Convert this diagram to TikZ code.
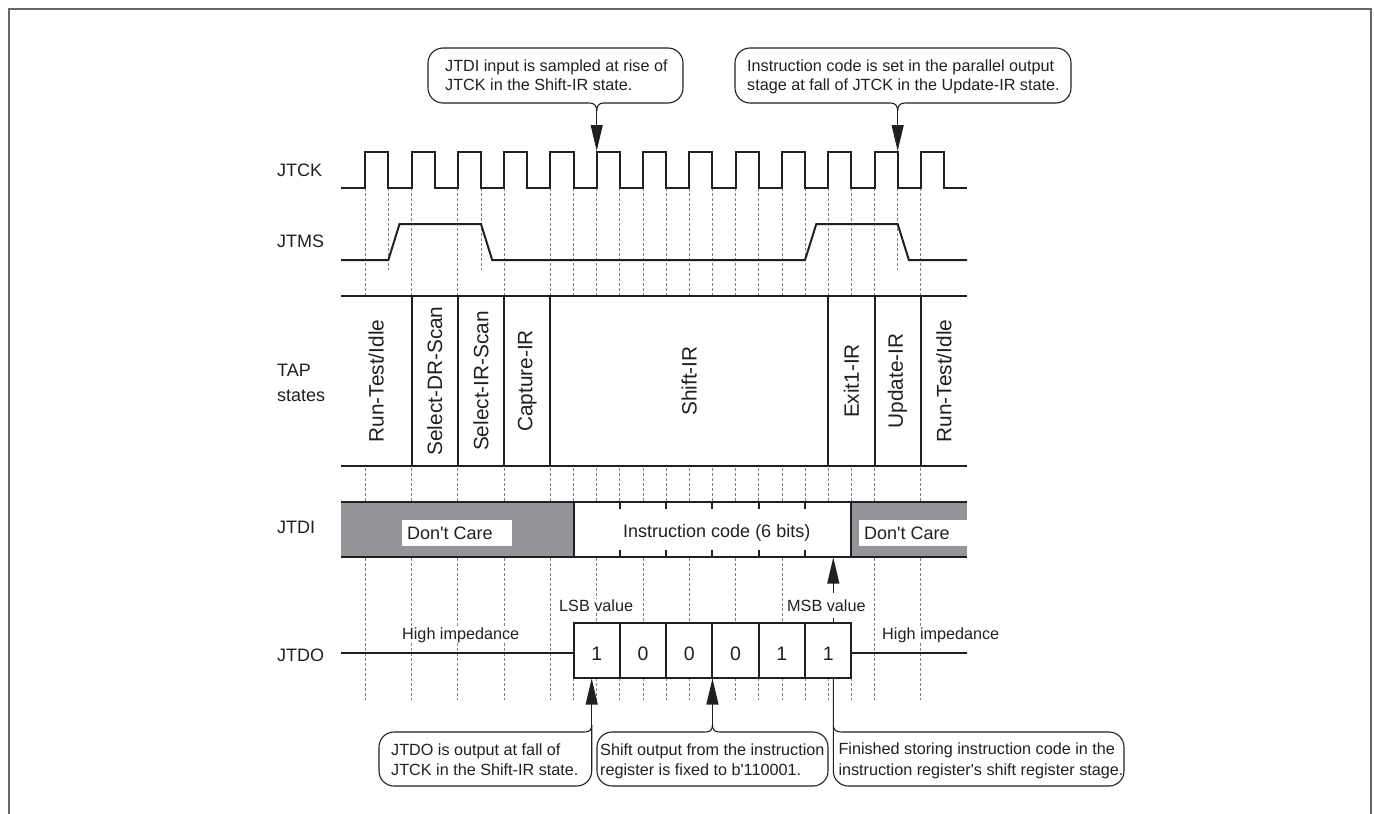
\documentclass[tikz,border=0pt]{standalone}
\usepackage{fontspec}
\setmainfont{Liberation Sans}
\newfontfamily\rawf{Liberation Sans}
\newcommand{\sq}{{\rawf'}}
\usetikzlibrary{arrows.meta}
\definecolor{dcgray}{RGB}{147,149,152}
\definecolor{ink}{RGB}{35,31,32}
\begin{document}
\begin{tikzpicture}[x=1pt,y=-1pt,
  sig/.style={line width=2pt, draw=ink, line join=miter},
  dashln/.style={line width=0.8pt, draw=black!50, dash pattern=on 2.5pt off 2.5pt},
  cl/.style={line width=1.1pt, draw=ink},
  arr/.style={cl, -{Triangle[length=26pt,width=12pt]}},
  lbl/.style={font=\fontsize{18}{20}\selectfont, text=ink, inner sep=0pt},
  ctext/.style={font=\fontsize{16.2}{19}\selectfont, text=ink, inner sep=0pt, anchor=base west},
  bgtext/.style={ctext, fill=white, inner sep=1pt},
  state/.style={font=\fontsize{20.8}{22}\selectfont, text=ink, inner sep=0pt, rotate=90},
  digit/.style={font=\fontsize{19.5}{21}\selectfont, text=ink, inner sep=0pt}]
\useasboundingbox (0,0) rectangle (1374,814);
% frame
\draw[line width=1.8pt, draw=black!60] (9,814) -- (9,9) -- (1371,9) -- (1371,814);

% dashed timing guides
\foreach \k in {0,...,9,11,12} \draw[dashln] ({365.2+46.3*\k},188) -- ({365.2+46.3*\k},700);
\foreach \k in {4,...,10} {
  \draw[dashln] ({388.35+46.3*\k},188) -- ({388.35+46.3*\k},557);
  \draw[dashln] ({388.35+46.3*\k},678) -- ({388.35+46.3*\k},700);
}
\draw[dashln] (828.2,188) -- (828.2,557);
\draw[dashln] (828.2,678) -- (828.2,700);
\foreach \k in {0,2,11} \draw[dashln] ({388.35+46.3*\k},188) -- ({388.35+46.3*\k},270);

% labels
\node[lbl, anchor=west] (jtck) at (277,170) {JTCK};
\node[lbl, anchor=west] (jtms) at (277,241.5) {JTMS};
\node[lbl, anchor=base west] (tap1) at (277,376) {TAP};
\node[lbl, anchor=base west] (tap2) at (277,401.5) {states};
\node[lbl, anchor=west] (jtdi) at (277,527) {JTDI};
\node[lbl, anchor=west] (jtdo) at (277,655) {JTDO};

% JTCK
\draw[sig] (341,188) \foreach \k in {0,...,12} { -- ({365.2+46.3*\k},188) -- ++(0,-36) -- ++(23.15,0) -- ++(0,36) } -- (967,188);
% JTMS
\draw[sig] (341,260) -- (388.35,260) -- (399.5,224) -- (480.95,224) -- (492.2,260) -- (805.05,260) -- (816.3,224) -- (897.65,224) -- (908.9,260) -- (967,260);

% TAP states
\fill[white] (341,296) rectangle (967,466);
\draw[sig] (341,296) -- (967,296);
\draw[sig] (341,466) -- (967,466);
\foreach \x in {411.5,457.8,504.1,550.4,828.2,874.5,920.8} \draw[sig] (\x,296) -- (\x,466);
\node[state] (s1) at (376.2,381) {Run-Test/Idle};
\node[state] (s2) at (434.6,381) {Select-DR-Scan};
\node[state] (s3) at (481,381) {Select-IR-Scan};
\node[state] (s4) at (527.2,381) {Capture-IR};
\node[state] (s5) at (689.3,381) {Shift-IR};
\node[state] (s6) at (851.3,381) {Exit1-IR};
\node[state] (s7) at (897.6,381) {Update-IR};
\node[state] (s8) at (943.9,381) {Run-Test/Idle};

% JTDI
\fill[dcgray] (341,502) rectangle (573.55,557);
\fill[dcgray] (851.35,502) rectangle (967,557);
\fill[white] (573.55,502) rectangle (851.35,557);
\draw[sig] (341,502) -- (967,502);
\draw[sig] (341,557) -- (967,557);
\draw[sig] (573.55,502) -- (573.55,557);
\draw[sig] (851.35,502) -- (851.35,557);
\foreach \k in {5,...,9} {
  \draw[sig] ({388.35+46.3*\k},502) -- ++(0,7);
  \draw[sig] ({388.35+46.3*\k},557) -- ++(0,-7);
}
\fill[white] (402,520) rectangle (512,546);
\fill[white] (859,520) rectangle (967,546);
\node[lbl, anchor=west] (dc1) at (407,533) {Don\sq t Care};
\node[lbl, anchor=west] (ic) at (623,533) {Instruction code (6 bits)};
\node[lbl, anchor=west] (dc2) at (864,533) {Don\sq t Care};

% JTDO
\draw[sig] (341,653) -- (573.55,653);
\draw[sig] (851.35,653) -- (967,653);
\draw[sig, fill=white] (573.55,623) rectangle (851.35,678);
\foreach \k in {5,...,9} \draw[sig] ({388.35+46.3*\k},623) -- ({388.35+46.3*\k},678);
\node[digit] (d1) at (596.7,654) {1};
\node[digit] (d2) at (643.0,654) {0};
\node[digit] (d3) at (689.3,654) {0};
\node[digit] (d4) at (735.6,654) {0};
\node[digit] (d5) at (781.9,654) {1};
\node[digit] (d6) at (828.2,654) {1};
\node[bgtext] (hz1) at (401,639) {High impedance};
\node[bgtext] (hz2) at (881,639) {High impedance};
\node[bgtext] (lsb) at (558,611.7) {LSB value};
\node[bgtext] (msb) at (786,611.7) {MSB value};

% MSB arrow
\coordinate (m0) at (833.3,593);
\coordinate (m1) at (833.3,557.5);
\draw[arr] (m0) -- (m1);
\draw[cl] (833.3,618) -- (833.3,623);

% top callout 1
\draw[cl, rounded corners=15pt] (589.7,103) -- (428,103) -- (428,48) -- (683,48) -- (683,103) -- (603.7,103);
\draw[cl] (589.7,103) .. controls (594.5,103) and (596.7,106) .. (596.7,111);
\draw[cl] (603.7,103) .. controls (598.9,103) and (596.7,106) .. (596.7,111);
\coordinate (a1) at (596.7,111);
\coordinate (a1t) at (596.7,151);
\draw[arr] (a1) -- (a1t);
\node[ctext] (t1a) at (445,71.7) {JTDI input is sampled at rise of};
\node[ctext] (t1b) at (445,90.8) {JTCK in the Shift-IR state.};

% top callout 2
\draw[cl, rounded corners=15pt] (890.65,103) -- (735,103) -- (735,48) -- (1071,48) -- (1071,103) -- (904.65,103);
\draw[cl] (890.65,103) .. controls (895.45,103) and (897.65,106) .. (897.65,111);
\draw[cl] (904.65,103) .. controls (899.85,103) and (897.65,106) .. (897.65,111);
\coordinate (a2) at (897.65,111);
\coordinate (a2t) at (897.65,151);
\draw[arr] (a2) -- (a2t);
\node[ctext] (t2a) at (747,71.7) {Instruction code is set in the parallel output};
\node[ctext] (t2b) at (747,90.8) {stage at fall of JTCK in the Update-IR state.};

% bottom callout 1
\draw[cl, rounded corners=15pt] (591.7,725) -- (591.7,786) -- (379,786) -- (379,732) -- (584.7,732);
\draw[cl] (584.7,732) .. controls (589.5,732) and (591.7,729.8) .. (591.7,725);
\coordinate (b1) at (591.7,726);
\coordinate (b1t) at (591.7,678.5);
\draw[arr] (b1) -- (b1t);
\node[ctext] (b1a) at (391,755) {JTDO is output at fall of};
\node[ctext] (b1b) at (391,775.7) {JTCK in the Shift-IR state.};

% bottom callout 2
\draw[cl, rounded corners=15pt] (705.45,732) -- (597,732) -- (597,786) -- (828,786) -- (828,732) -- (719.45,732);
\draw[cl] (705.45,732) .. controls (710.25,732) and (712.45,729.8) .. (712.45,725);
\draw[cl] (719.45,732) .. controls (714.65,732) and (712.45,729.8) .. (712.45,725);
\coordinate (b2) at (712.45,726);
\coordinate (b2t) at (712.45,678.5);
\draw[arr] (b2) -- (b2t);
\node[ctext] (b2a) at (600,755) {Shift output from the instruction};
\node[ctext] (b2b) at (600,775.7) {register is fixed to b\sq 110001.};

% bottom callout 3
\draw[cl, rounded corners=15pt] (833.3,678) -- (833.3,786) -- (1124,786) -- (1124,732) -- (841.3,732);
\draw[cl] (841.3,732) .. controls (836.1,732) and (833.3,729.8) .. (833.3,725);
\node[ctext] (b3a) at (838.3,754.5) {Finished storing instruction code in the};
\node[ctext] (b3b) at (838.3,775.3) {instruction register\sq s shift register stage.};
\end{tikzpicture}
\end{document}
